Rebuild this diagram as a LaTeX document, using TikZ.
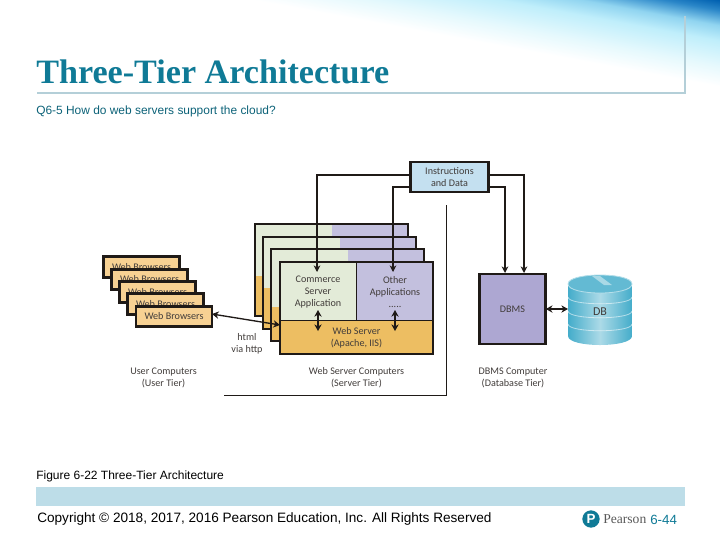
\documentclass[tikz,border=0pt]{standalone}
\usepackage{fontspec}
\usepackage{xcolor}
\usepackage{tikz}
\usetikzlibrary{arrows.meta,positioning}
\setmainfont{Liberation Sans}
\newfontfamily\titlefont{Liberation Serif}
\newfontfamily\figfont{Carlito}
\definecolor{ttteal}{HTML}{0F7A96}
\definecolor{ttrule}{HTML}{BDDDE8}
\definecolor{ttink}{HTML}{1F1A17}
\definecolor{ttgreen}{HTML}{E3EBD8}
\definecolor{ttviolet}{HTML}{C3C0DE}
\definecolor{ttorange}{HTML}{EDBE62}
\definecolor{ttpeach}{HTML}{F7D193}
\definecolor{ttsky}{HTML}{C4E0F0}
\definecolor{ttdbms}{HTML}{ADA7D2}
\definecolor{ttdb}{HTML}{2FA3C4}
\definecolor{washa}{HTML}{E6F9FD}
\definecolor{washb}{HTML}{BFEEFB}
\definecolor{washc}{HTML}{90D4F0}
\definecolor{washd}{HTML}{2A86C8}
\definecolor{washe}{HTML}{0060B0}
\definecolor{washf}{HTML}{0050A0}
\pgfdeclareverticalshading{cornerwash}{100bp}{
  color(0bp)=(white); color(27.5bp)=(white);
  color(37.5bp)=(washa); color(50bp)=(washb); color(57.5bp)=(washc);
  color(65bp)=(washd); color(70bp)=(washe); color(100bp)=(washf)}
\tikzset{
  framebox/.style={draw=ttink,line width=2.2pt,inner sep=0pt,outer sep=0pt,font=\figfont\fontsize{7.6}{9}\selectfont,text=ttink!85,align=center},
  browserbox/.style={framebox,fill=ttpeach,minimum width=57pt,minimum height=15.5pt},
  panebox/.style={framebox,line width=0.7pt},
  plainlabel/.style={font=\figfont\fontsize{7.6}{9}\selectfont,text=ttink!85,align=center,inner sep=0pt},
  textlabel/.style={anchor=west,inner sep=0pt},
  dataedge/.style={-{Stealth[length=5pt,width=5pt]},line width=0.8pt,ttink},
  calledge/.style={{Stealth[length=5pt,width=5.5pt]}-{Stealth[length=5pt,width=5.5pt]},line width=1pt,ttink},
}
\begin{document}
\begin{tikzpicture}[x=0.75pt,y=-0.75pt]
  \useasboundingbox (0,0) rectangle (720,540);
  % corner wash
  \begin{scope}
    \clip (0,0) rectangle (720,540);
    \begin{scope}[transform canvas={rotate around={-10.5:(720,0)}}]
      \shade[shading=cornerwash] (-300,-10) rectangle (1000,90);
    \end{scope}
  \end{scope}
  \node[textlabel,text=ttteal] (title) at (36,72) {\titlefont\bfseries\fontsize{25.6}{28}\selectfont Three-Tier Architecture};
  \coordinate (ruleleft) at (37,93);
  \coordinate (ruleright) at (685,93);
  \coordinate (ruletop) at (685,16);
  \draw[ttrule!85!gray,line width=1.2pt] (ruleleft) -- (ruleright) -- (ruletop);
  \node[textlabel,text=ttteal!80!black] (question) at (36,111) {\fontsize{8.95}{10}\selectfont Q6-5 How do web servers support the cloud?};

  % browsers
  \foreach \bx/\by in {141.5/267,149.5/279.5,157.5/292,165.5/304}
    \node[browserbox] at (\bx,\by) {Web Browsers};
  \node[browserbox] (browser) at (174,316.5) {Web Browsers};

  % server stack
  \foreach \sx/\sy/\sv/\so in {255/224/331.5/52,263/237/340/51,271/249/348/58}{
    \fill[ttorange] (\sx,\sy+\so) rectangle (\sx+153,\sy+92);
    \fill[ttgreen] (\sx,\sy) rectangle (\sv,\sy+\so);
    \fill[ttviolet] (\sv,\sy) rectangle (\sx+153,\sy+\so);
    \draw[ttink,line width=2.2pt] (\sx,\sy) rectangle (\sx+153,\sy+92);
  }
  \node[panebox,fill=ttgreen,minimum width=57pt,minimum height=43.5pt] (commerce) at (318,291) {};
  \node[panebox,fill=ttviolet,minimum width=57.75pt,minimum height=43.5pt] (other) at (394.5,291) {};
  \node[panebox,fill=ttorange,minimum width=114.75pt,minimum height=25.5pt] (webserver) at (356.5,337) {};
  \draw[ttink,line width=2.2pt] (commerce.north west) rectangle (webserver.south east);
  \node[plainlabel] (commercetext) at (318,292) {Commerce\\Server\\Application};
  \node[plainlabel] (othertext) at (395,292) {Other\\Applications\\.....};
  \node[plainlabel] (webservertext) at (356.5,338) {Web Server\\(Apache, IIS)};

  % instructions and data
  \node[framebox,fill=ttsky,minimum width=59pt,minimum height=22.5pt] (instr) at (449.5,177) {Instructions\\and Data};
  \node[framebox,fill=ttdbms,minimum width=50pt,minimum height=52.5pt] (dbms) at (512.5,309) {DBMS};

  % db
  \shade[left color=ttdb!90,right color=ttdb!90,middle color=ttdb!40]
    (568,284) .. controls (568,272) and (632,272) .. (632,284) -- (632,336)
    .. controls (632,348) and (568,348) .. (568,336) -- cycle;
  \fill[ttdb!75,draw=ttdb!35,line width=0.6pt] (568,284) .. controls (568,272) and (632,272) .. (632,284)
    .. controls (632,296) and (568,296) .. (568,284) -- cycle;
  \fill[white,opacity=0.45] (592,276) -- (600,276) -- (612,285) -- (604,285) -- cycle;
  \foreach \cy in {297,311,324}
    \draw[white,opacity=0.55,line width=0.6pt] (568,\cy) .. controls (568,\cy+9) and (632,\cy+9) .. (632,\cy);
  \node[plainlabel,font=\figfont\fontsize{9}{10}\selectfont] (db) at (600,312) {DB};

  % connectors
  \coordinate (cmtop) at (317,272);
  \coordinate (ottop) at (393,272);
  \coordinate (cmin) at (318,310);
  \coordinate (cmout) at (318,331);
  \coordinate (otin) at (395,310);
  \coordinate (otout) at (395,331);
  \draw[dataedge] (instr.west |- 0,175) -| (cmtop);
  \draw[dataedge] (instr.west |- 0,187) -| (ottop);
  \draw[dataedge] (instr.east |- 0,187) -| (505,273);
  \draw[dataedge] (instr.east |- 0,175) -| (524,273);
  \draw[calledge] (cmin) -- (cmout);
  \draw[calledge] (otin) -- (otout);
  \draw[calledge] (browser.east |- 0,314) -- (webserver.west |- 0,325);
  \draw[calledge] (dbms.east) -- (568,309);

  % tier line
  \coordinate (tiertop) at (446,205);
  \coordinate (tiercorner) at (446,395);
  \coordinate (tierleft) at (224,395);
  \draw[ttink,line width=0.7pt] (tiertop) -- (tiercorner) -- (tierleft);

  \node[plainlabel] (htmllabel) at (247,343.5) {html\\via http};
  \node[plainlabel] (usertier) at (163.5,377.5) {User Computers\\(User Tier)};
  \node[plainlabel] (servertier) at (356.5,377.5) {Web Server Computers\\(Server Tier)};
  \node[plainlabel] (dbtier) at (513,377.5) {DBMS Computer\\(Database Tier)};

  % footer
  \node[textlabel] (figcaption) at (36,476) {\fontsize{9}{10}\selectfont Figure 6-22 Three-Tier Architecture};
  \fill[ttrule] (36,487) rectangle (685,506);
  \node[textlabel] (copyright) at (37,519) {\fontsize{10.2}{11}\selectfont Copyright © 2018, 2017, 2016 Pearson Education, Inc. All Rights Reserved};
  \node[circle,fill=ttteal,minimum size=13pt,inner sep=0pt,text=white] (logo) at (591,519) {\bfseries\fontsize{10}{10}\selectfont P};
  \node[textlabel,text=black!65] (pearson) at (603,519) {\titlefont\fontsize{10.2}{10}\selectfont Pearson};
  \node[textlabel,text=ttteal] (pagenum) at (650,520) {\fontsize{10}{10}\selectfont 6-44};
\end{tikzpicture}
\end{document}
